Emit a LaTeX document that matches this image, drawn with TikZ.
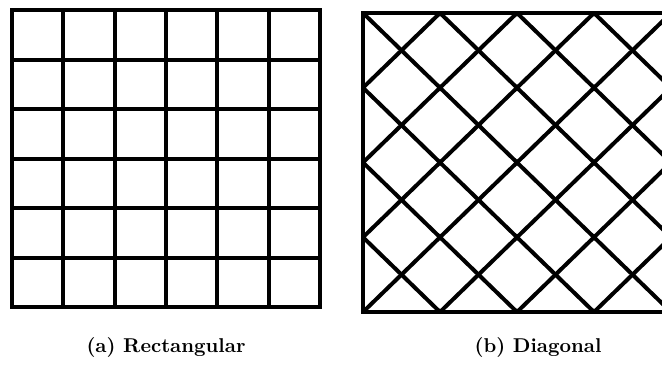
\documentclass[tikz,border=0pt]{standalone}
\usepackage{tikz}
\tikzset{
  gridline/.style={line width=2pt},
  frameline/.style={line width=2.2pt,line join=miter},
  caption/.style={font=\bfseries,inner sep=0pt}
}
\begin{document}
\begin{tikzpicture}[x=0.5pt,y=-0.5pt]
  \useasboundingbox (0,0) rectangle (662,364);
  \clip (0,0) rectangle (662,364);
  % (a) rectangular grid, 6 by 6
  \begin{scope}[shift={(12,10)},xscale=308/6,yscale=297/6]
    \foreach \i in {1,...,5} {
      \draw[gridline] (\i,0) -- (\i,6);
      \draw[gridline] (0,\i) -- (6,\i);
    }
    \draw[frameline] (0,0) rectangle (6,6);
  \end{scope}
  % (b) diagonal grid, right side runs off the page
  \begin{scope}[shift={(363,13)},xscale=308/8,yscale=299/8]
    \foreach \c in {2,4,...,14}
      \draw[gridline] ({max(0,\c-8)},{min(\c,8)}) -- ({min(\c,8)},{max(0,\c-8)});
    \foreach \c in {-6,-4,...,6}
      \draw[gridline] ({max(0,\c)},{max(0,-\c)}) -- ({min(8,8+\c)},{min(8,8-\c)});
    \draw[frameline] (0,0) rectangle (8,8);
  \end{scope}
  \node[caption] (rect) at (166,347) {(a) Rectangular};
  \node[caption] (diag) at (538,347) {(b) Diagonal};
\end{tikzpicture}
\end{document}
